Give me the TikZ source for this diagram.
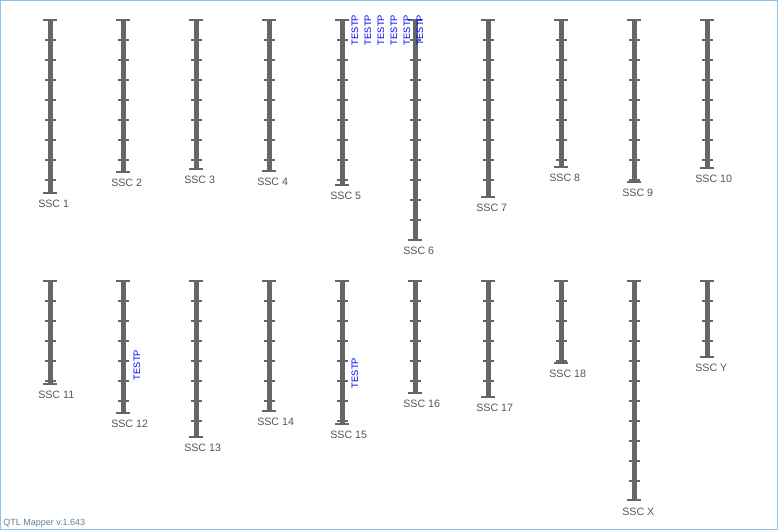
\documentclass[tikz,border=0pt]{standalone}
\usepackage{fontspec}
\newfontfamily\qtlfont{Liberation Sans}
\definecolor{chrgray}{HTML}{666666}
\definecolor{lblgray}{HTML}{555555}
\definecolor{frameblue}{HTML}{8DC3EC}
\definecolor{footblue}{HTML}{5F7F9F}
\tikzset{
    chrbar/.style={fill=chrgray},
    chrcap/.style={draw=chrgray, line width=1.5pt},
    chrtick/.style={draw=chrgray, line width=1pt},
    chrlabel/.style={text=lblgray, font=\qtlfont\fontsize{8}{9}\selectfont, inner sep=0pt, anchor=base west},
    qtllabel/.style={text=blue, font=\qtlfont\fontsize{7}{8}\selectfont, inner sep=0pt, rotate=90},
    footnote/.style={text=footblue, font=\qtlfont\fontsize{6.75}{8}\selectfont, inner sep=0pt, anchor=base west}
}
% name, x, top, bottom, label
\newcommand{\chrom}[5]{%
    \fill[chrbar] (#2-2.5,#3) rectangle (#2+2.5,#4);
    \pgfmathsetmacro\tickA{#3+20}
    \pgfmathsetmacro\tickB{#3+40}
    \foreach \t in {\tickA,\tickB,...,#4} \draw[chrtick] (#2-5,\t) -- (#2+5.5,\t);
    \draw[chrcap] (#2-7,#3) -- (#2+7,#3);
    \draw[chrcap] (#2-7,#4) -- (#2+7,#4);
    \node[chrlabel] (#1) at (#2-12,#4+15) {#5};
}
\begin{document}
\begin{tikzpicture}[x=0.75pt,y=-0.75pt]
\useasboundingbox (0,0) rectangle (778,530);
\draw[frameblue, line width=0.75pt] (0.5,0.5) rectangle (777.5,529.5);
\chrom{ssc1}{50}{20}{193}{SSC 1}
\chrom{ssc2}{123}{20}{172}{SSC 2}
\chrom{ssc3}{196}{20}{169}{SSC 3}
\chrom{ssc4}{269}{20}{171}{SSC 4}
\chrom{ssc5}{342}{20}{185}{SSC 5}
\chrom{ssc6}{415}{20}{240}{SSC 6}
\chrom{ssc7}{488}{20}{197}{SSC 7}
\chrom{ssc8}{561}{20}{167}{SSC 8}
\chrom{ssc9}{634}{20}{182}{SSC 9}
\chrom{ssc10}{707}{20}{168}{SSC 10}
\chrom{ssc11}{50}{281}{384}{SSC 11}
\chrom{ssc12}{123}{281}{413}{SSC 12}
\chrom{ssc13}{196}{281}{437}{SSC 13}
\chrom{ssc14}{269}{281}{411}{SSC 14}
\chrom{ssc15}{342}{281}{424}{SSC 15}
\chrom{ssc16}{415}{281}{393}{SSC 16}
\chrom{ssc17}{488}{281}{397}{SSC 17}
\chrom{ssc18}{561}{281}{363}{SSC 18}
\chrom{sscx}{634}{281}{500}{SSC X}
\chrom{sscy}{707}{281}{357}{SSC Y}
\node[qtllabel] (qtlA) at (355,30) {TESTP};
\node[qtllabel] (qtlB) at (368,30) {TESTP};
\node[qtllabel] (qtlC) at (381,30) {TESTP};
\node[qtllabel] (qtlD) at (394,30) {TESTP};
\node[qtllabel] (qtlE) at (407,30) {TESTP};
\node[qtllabel] (qtlF) at (420,30) {TESTP};
\node[qtllabel] (qtlG) at (137,365) {TESTP};
\node[qtllabel] (qtlH) at (355,373) {TESTP};
\node[footnote] (version) at (3,525.5) {QTL Mapper v.1.643};
\end{tikzpicture}
\end{document}
